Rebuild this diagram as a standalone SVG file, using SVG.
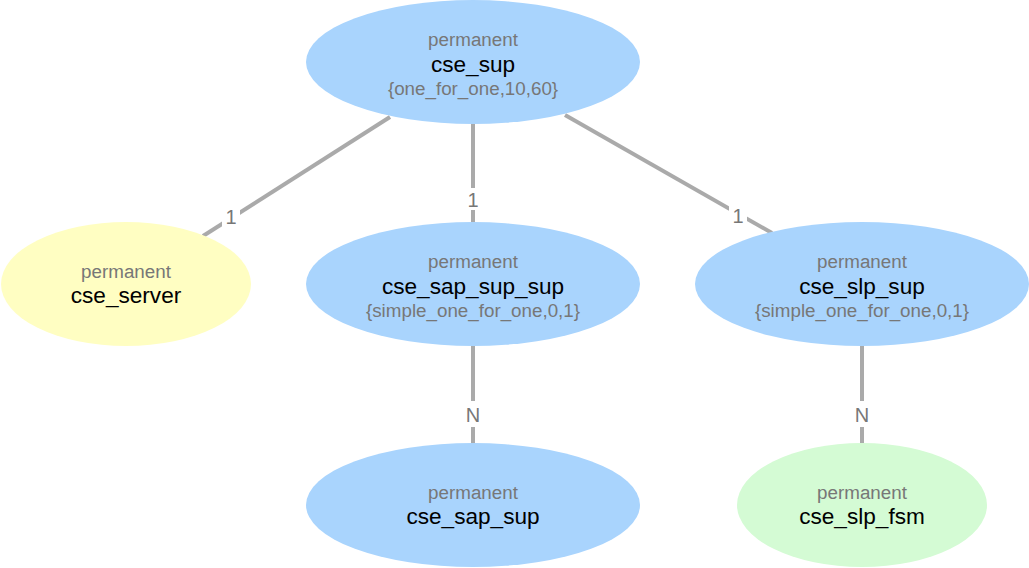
<svg xmlns="http://www.w3.org/2000/svg" width="1029" height="568" viewBox="0 0 1029 568">
<style>
.blue{fill:#a9d4fd}
.yellow{fill:#fffec2}
.green{fill:#d4fbd4}
.sub{font-family:"Liberation Sans",Arial,sans-serif;font-size:18.8px;fill:#777;text-anchor:middle}
.name{font-family:"Liberation Sans",Arial,sans-serif;font-size:22.6px;fill:#000;text-anchor:middle}
.edge{stroke:#aaa;stroke-width:4;fill:none}
.lbl{font-family:"Liberation Sans",Arial,sans-serif;font-size:20px;fill:#777;text-anchor:middle}
.bg{fill:#fff}
</style>
<rect width="1029" height="568" fill="#fff"/>
<g id="connectors">
<line class="edge" x1="390" y1="117" x2="203" y2="236"/>
<rect class="bg" x="222" y="205" width="18" height="22"/>
<text class="lbl" x="231" y="224">1</text>
<line class="edge" x1="473" y1="124" x2="473" y2="222"/>
<rect class="bg" x="464" y="188" width="18" height="22"/>
<text class="lbl" x="473" y="207">1</text>
<line class="edge" x1="565" y1="115" x2="772" y2="233"/>
<rect class="bg" x="729" y="204" width="18" height="22"/>
<text class="lbl" x="738" y="223">1</text>
<line class="edge" x1="473" y1="346" x2="473" y2="443"/>
<rect class="bg" x="463" y="401" width="20" height="26"/>
<text class="lbl" x="473" y="422">N</text>
<line class="edge" x1="862" y1="346" x2="862" y2="443"/>
<rect class="bg" x="852" y="401" width="20" height="26"/>
<text class="lbl" x="862" y="422">N</text>
</g>
<g id="cse_sup">
<ellipse class="blue" cx="473" cy="62" rx="167" ry="62"/>
<text class="sub" x="473" y="46">permanent</text>
<text class="name" x="473" y="72">cse_sup</text>
<text class="sub" x="473" y="95">{one_for_one,10,60}</text>
</g>
<g id="cse_server">
<ellipse class="yellow" cx="126" cy="284" rx="125" ry="62"/>
<text class="sub" x="126" y="278">permanent</text>
<text class="name" x="126" y="303">cse_server</text>
</g>
<g id="cse_sap_sup_sup">
<ellipse class="blue" cx="473" cy="284" rx="167" ry="62"/>
<text class="sub" x="473" y="268">permanent</text>
<text class="name" x="473" y="294">cse_sap_sup_sup</text>
<text class="sub" x="473" y="317">{simple_one_for_one,0,1}</text>
</g>
<g id="cse_slp_sup">
<ellipse class="blue" cx="862" cy="284" rx="167" ry="62"/>
<text class="sub" x="862" y="268">permanent</text>
<text class="name" x="862" y="294">cse_slp_sup</text>
<text class="sub" x="862" y="317">{simple_one_for_one,0,1}</text>
</g>
<g id="cse_sap_sup">
<ellipse class="blue" cx="473" cy="505" rx="167" ry="62"/>
<text class="sub" x="473" y="499">permanent</text>
<text class="name" x="473" y="524">cse_sap_sup</text>
</g>
<g id="cse_slp_fsm">
<ellipse class="green" cx="862" cy="505" rx="125" ry="62"/>
<text class="sub" x="862" y="499">permanent</text>
<text class="name" x="862" y="524">cse_slp_fsm</text>
</g>
</svg>
